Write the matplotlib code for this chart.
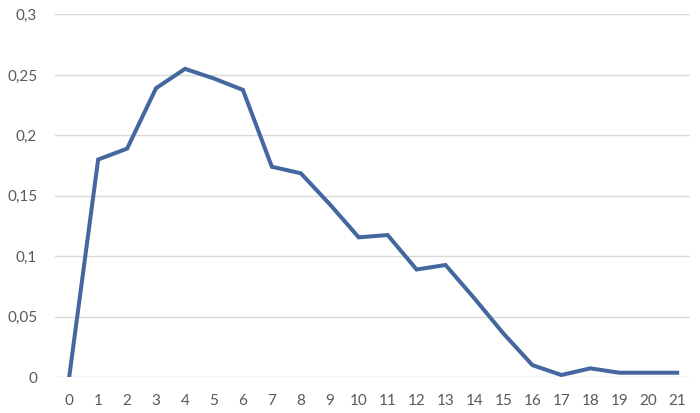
import matplotlib

matplotlib.use("Agg")
import matplotlib.pyplot as plt
from matplotlib.ticker import FuncFormatter

# values
x_labels = list(range(22))
values = [0.0, 0.180, 0.189, 0.239, 0.255, 0.247, 0.2376, 0.174, 0.1686, 0.143,
          0.1156, 0.1175, 0.089, 0.0927, 0.065, 0.036, 0.0099, 0.0017, 0.0072,
          0.0036, 0.0036, 0.0036]
y_ticks = [0, 0.05, 0.1, 0.15, 0.2, 0.25, 0.3]

plt.rcParams["font.family"] = ["Lato", "DejaVu Sans"]

fig = plt.figure(figsize=(7.0, 4.13), dpi=100)
ax = fig.add_axes([0.079, 0.087, 0.907, 0.878])

ax.plot(x_labels, values, color="#43679E", lw=2.9, solid_joinstyle="miter")

ax.set_xlim(-0.48, 21.45)
ax.set_ylim(0, 0.3)
ax.set_yticks(y_ticks)
ax.set_xticks(x_labels)
ax.yaxis.set_major_formatter(FuncFormatter(lambda v, _: f"{v:g}".replace(".", ",")))
ax.grid(axis="y", color="#D9D9D9", lw=1)
ax.set_axisbelow(True)
for side in ax.spines.values():
    side.set_visible(False)
ax.tick_params(length=0, labelsize=11, colors="#595959")
ax.tick_params(axis="y", pad=13)
ax.tick_params(axis="x", pad=12)

fig.savefig("out.png", dpi=100)
